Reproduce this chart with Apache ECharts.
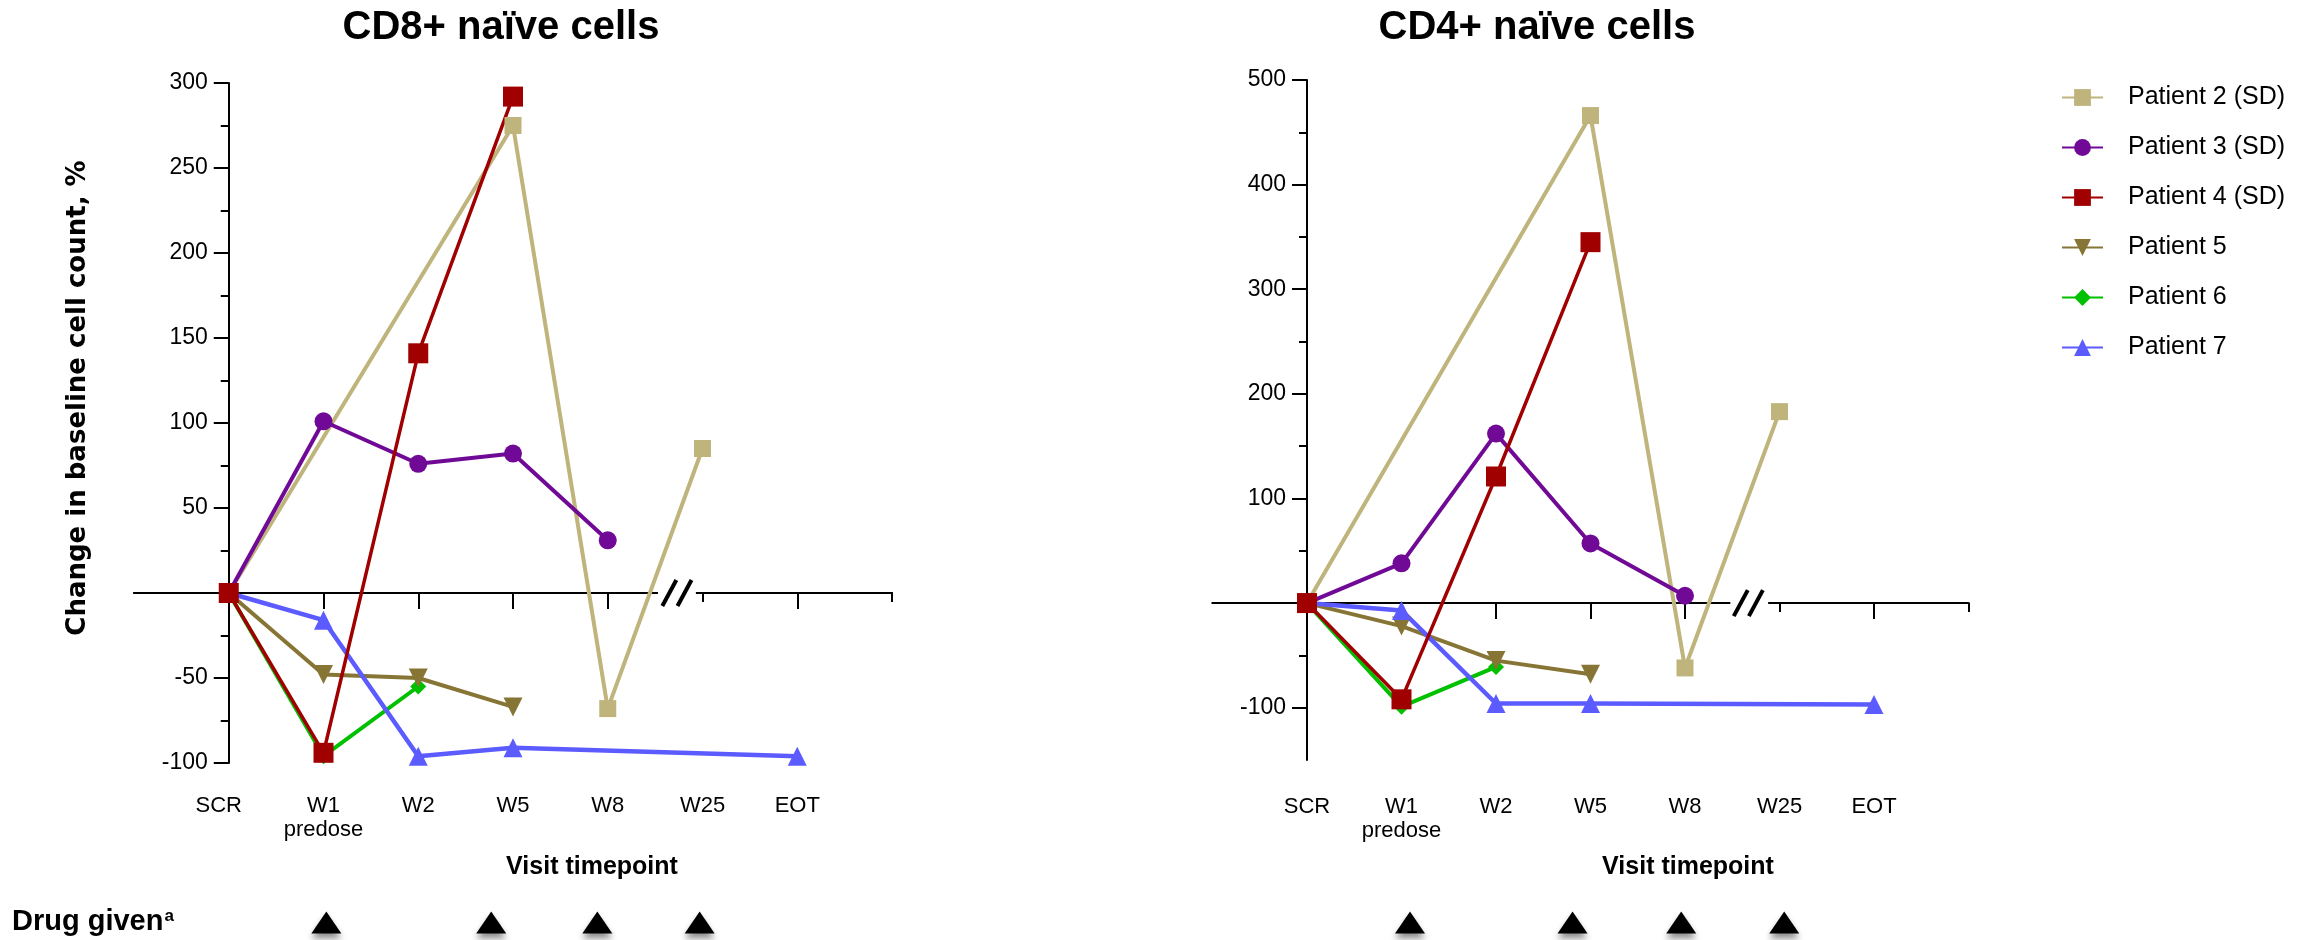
<!DOCTYPE html>
<html>
<head>
<meta charset="utf-8">
<script src="https://cdn.jsdelivr.net/npm/echarts@6/dist/echarts.min.js"></script>
<style>
  html, body { margin: 0; padding: 0; background: #fff; }
  #chart { width: 2313px; height: 940px; }
</style>
</head>
<body>
<div id="chart"></div>
<script>
const visits = ["SCR", "W1\npredose", "W2", "W5", "W8", "W25", "EOT"];
const patients = ["Patient 2 (SD)", "Patient 3 (SD)", "Patient 4 (SD)", "Patient 5", "Patient 6", "Patient 7"];

// CD8+ naive cells, change from baseline in % (null = no sample at that visit)
const cd8_p2 = [0, null, null, 275, -68, 85, null];
const cd8_p3 = [0, 101, 76, 82, 31, null, null];
const cd8_p4 = [0, -94, 141, 292, null, null, null];
const cd8_p5 = [0, -48, -50, -67, null, null, null];
const cd8_p6 = [0, -96, -55, null, null, null, null];
const cd8_p7 = [0, -16, -96, -91, null, null, -96];

// CD4+ naive cells
const cd4_p2 = [0, null, null, 466, -62, 183, null];
const cd4_p3 = [0, 38, 162, 57, 7, null, null];
const cd4_p4 = [0, -92, 121, 345, null, null, null];
const cd4_p5 = [0, -22, -55, -68, null, null, null];
const cd4_p6 = [0, -99, -61, null, null, null, null];
const cd4_p7 = [0, -7, -96, -96, null, null, -97];

// y ticks
const cd8_labels = [-100, -50, 50, 100, 150, 200, 250, 300];
const cd4_labels = [-100, 100, 200, 300, 400, 500];
const cd4_minor = [-50, 50, 150, 250, 350, 450];

// drug administration, in visit units
const drug_cd8 = [1.03, 2.77, 3.89, 4.97];
const drug_cd4 = [1.09, 2.81, 3.96, 5.05];

const FONT = '"Liberation Sans", Arial, sans-serif';
const BLACK = '#000';

// style per patient (same order as patients)
const colors = ["#BFB47C", "#700A96", "#A00000", "#867534", "#00C000", "#5B5BFF"];
const symbols = ["rect", "circle", "rect", "triangle", "diamond", "triangle"];
const rotates = [0, 0, 0, 180, 0, 0];
const sizes = [17, 18, 20, 19, 16, 19];
const widths = [4, 4, 3.5, 4, 4, 4.5];
const draw_order = [0, 4, 3, 5, 1, 2]; // red on top like the original

// one visit step in px: grid width / 8 steps (-1 .. 7)
const STEP_L = 758 / 8;
const STEP_R = 756 / 8;

function toPairs(values){
  return values.map((v, i) => v === null ? null : [i, v]).filter(Boolean);
}

function patientSeries(all, xi, yi){
  return draw_order.map((p) => ({
    type: 'line', name: patients[p], xAxisIndex: xi, yAxisIndex: yi,
    data: toPairs(all[p]),
    symbol: symbols[p], symbolRotate: rotates[p], symbolSize: sizes[p],
    lineStyle: {color: colors[p], width: widths[p]},
    itemStyle: {color: colors[p]},
    emphasis: {disabled: true}
  }));
}

// zero line with the long ticks
function lineAxis(grid, yIdx){
  return {
    type: 'value', gridIndex: grid, min: -1, max: 7, interval: 1, position: 'bottom',
    axisLine: {onZero: true, onZeroAxisIndex: yIdx, lineStyle: {color: BLACK, width: 2}},
    axisTick: {customValues: [1, 2, 3, 4, 6], length: 16, lineStyle: {color: BLACK, width: 2}},
    axisLabel: {show: false}, splitLine: {show: false}
  };
}

// the two short ticks (after the break and at the end)
function shortTickAxis(grid, yIdx){
  return {
    type: 'value', gridIndex: grid, min: -1, max: 7, interval: 1, position: 'bottom',
    axisLine: {show: true, onZero: true, onZeroAxisIndex: yIdx, lineStyle: {color: BLACK, width: 2}},
    axisTick: {customValues: [5, 7], length: 9, lineStyle: {color: BLACK, width: 2}},
    axisLabel: {show: false}, splitLine: {show: false}
  };
}

function labelAxis(grid, margin, scrShift){
  return {
    type: 'value', gridIndex: grid, min: -1, max: 7, position: 'bottom',
    axisLine: {show: false, onZero: false}, axisTick: {show: false}, splitLine: {show: false},
    axisLabel: {
      customValues: [0, 1, 2, 3, 4, 5, 6],
      formatter: (v) => v === 0 ? '{scr|SCR}' : visits[v],
      rich: {scr: {fontSize: 22, fontFamily: FONT, color: BLACK, padding: [0, scrShift, 0, 0]}},
      fontSize: 22, lineHeight: 24, margin: margin, color: BLACK, fontFamily: FONT
    }
  };
}

function hiddenAxis(grid, min, max){
  return {type: 'value', gridIndex: grid, min: min, max: max, show: false, axisLine: {onZero: false}};
}

const axisText = {fontSize: 23, color: BLACK, fontFamily: FONT, margin: 21};
const drugStyle = {color: BLACK, opacity: 1, shadowBlur: 6, shadowOffsetY: 5, shadowColor: 'rgba(0,0,0,0.45)'};

const option = {
  animation: false,
  backgroundColor: '#fff',
  grid: [
    {left: 134, top: 83, width: 758, height: 680},
    {left: 1212.5, top: 80, width: 756, height: 680},
    {left: 134, top: 905, width: 758, height: 35},
    {left: 1212.5, top: 905, width: 756, height: 35}
  ],
  xAxis: [
    lineAxis(0, 0), labelAxis(0, 31, 20), shortTickAxis(0, 1),
    lineAxis(1, 2), labelAxis(1, 35, 0), shortTickAxis(1, 3),
    hiddenAxis(2, -1, 7), hiddenAxis(3, -1, 7)
  ],
  yAxis: [
    {
      type: 'value', gridIndex: 0, min: -100, max: 300, interval: 50, position: 'left', offset: -STEP_L,
      axisLine: {show: true, onZero: false, lineStyle: {color: BLACK, width: 2}},
      axisTick: {show: true, length: 15, lineStyle: {color: BLACK, width: 2}},
      minorTick: {show: true, splitNumber: 2, length: 8, lineStyle: {color: BLACK, width: 2}},
      axisLabel: Object.assign({customValues: cd8_labels}, axisText),
      splitLine: {show: false}
    },
    hiddenAxis(0, -100, 300),
    {
      type: 'value', gridIndex: 1, min: -150, max: 500, interval: 50, position: 'left', offset: -STEP_R,
      axisLine: {show: true, onZero: false, lineStyle: {color: BLACK, width: 2}},
      axisTick: {show: true, customValues: cd4_labels, length: 15, lineStyle: {color: BLACK, width: 2}},
      axisLabel: Object.assign({customValues: cd4_labels}, axisText),
      splitLine: {show: false}
    },
    {
      type: 'value', gridIndex: 1, min: -150, max: 500, interval: 50, position: 'left', offset: -STEP_R,
      axisLine: {show: false, onZero: false},
      axisTick: {show: true, customValues: cd4_minor, length: 8, lineStyle: {color: BLACK, width: 2}},
      axisLabel: {show: false}, splitLine: {show: false}
    },
    hiddenAxis(2, -1, 1), hiddenAxis(3, -1, 1)
  ],
  legend: {
    data: patients, orient: 'vertical', left: 2056, top: 80,
    itemWidth: 41, itemHeight: 21, itemGap: 25, selectedMode: false,
    textStyle: {fontSize: 25, lineHeight: 25, fontFamily: FONT, color: BLACK, padding: [0, 0, 0, 20]}
  },
  series: [
    ...patientSeries([cd8_p2, cd8_p3, cd8_p4, cd8_p5, cd8_p6, cd8_p7], 0, 0),
    ...patientSeries([cd4_p2, cd4_p3, cd4_p4, cd4_p5, cd4_p6, cd4_p7], 3, 2),
    {
      type: 'scatter', name: 'drug', xAxisIndex: 6, yAxisIndex: 4,
      data: drug_cd8.map((x) => [x, 0]), symbol: 'triangle', symbolSize: [30, 22],
      itemStyle: drugStyle, emphasis: {disabled: true}
    },
    {
      type: 'scatter', name: 'drug', xAxisIndex: 7, yAxisIndex: 5,
      data: drug_cd4.map((x) => [x, 0]), symbol: 'triangle', symbolSize: [30, 22],
      itemStyle: drugStyle, emphasis: {disabled: true}
    }
  ]
};

const chart = echarts.init(document.getElementById('chart'), null, {renderer: 'canvas'});
chart.setOption(option);

// AXIS BREAK "//" on the zero line, between W8 and W25
function axisBreak(seriesIndex, from, to, slashes){
  const a = chart.convertToPixel({seriesIndex}, [from, 0]);
  const b = chart.convertToPixel({seriesIndex}, [to, 0]);
  const els = [{type: 'rect', z: 1, shape: {x: a[0], y: a[1] - 4, width: b[0] - a[0], height: 8}, style: {fill: '#fff'}}];
  slashes.forEach((s) => {
    const p = chart.convertToPixel({seriesIndex}, [s, 0]);
    els.push({type: 'line', z: 1, shape: {x1: p[0] - 7, y1: p[1] + 13, x2: p[0] + 7, y2: p[1] - 13}, style: {stroke: BLACK, lineWidth: 4}});
  });
  return els;
}

function label(text, x, y, size, extra){
  return Object.assign({
    type: 'text', x: x, y: y, z: 5,
    style: {text: text, fontSize: size, fontWeight: 'bold', fontFamily: FONT, fill: BLACK, align: 'center', verticalAlign: 'middle'}
  }, extra || {});
}

chart.setOption({
  graphic: [
    ...axisBreak(0, 4.53, 4.93, [4.65, 4.81]),
    ...axisBreak(6, 4.48, 4.88, [4.59, 4.75]),
    label('CD8+ naïve cells', 501, 28, 40),
    label('CD4+ naïve cells', 1537, 28, 40),
    label('Visit timepoint', 592, 867, 25),
    label('Visit timepoint', 1688, 867, 25),
    {
      type: 'text', x: 78, y: 398, rotation: Math.PI / 2, z: 5,
      style: {text: 'Change in baseline cell count, %', fontSize: 26, fontWeight: 'bold',
              fontFamily: '"DejaVu Sans", Verdana, sans-serif', fill: BLACK, align: 'center', verticalAlign: 'middle'}
    },
    {
      type: 'text', x: 12, y: 922, z: 5,
      style: {
        text: '{b|Drug given}{s|a}', verticalAlign: 'middle', align: 'left',
        rich: {
          b: {fontSize: 29, fontWeight: 'bold', fontFamily: FONT, fill: BLACK},
          s: {fontSize: 17, fontWeight: 'bold', fontFamily: FONT, fill: BLACK, verticalAlign: 'top', padding: [0, 0, 10, 1]}
        }
      }
    }
  ]
});
</script>
</body>
</html>
